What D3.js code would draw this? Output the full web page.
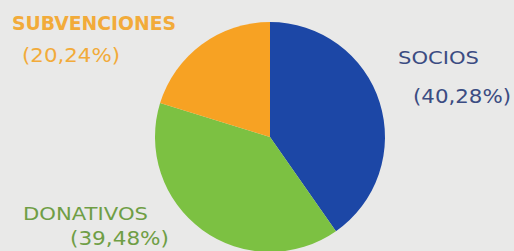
<!DOCTYPE html>
<html>
<head>
<meta charset="utf-8">
<script src="https://cdn.jsdelivr.net/npm/d3@7"></script>
<style>
  html, body { margin: 0; padding: 0; background: #e9e9e8; }
  svg { display: block; }
</style>
</head>
<body>
<script>
// data
const categories = ["SOCIOS", "DONATIVOS", "SUBVENCIONES"];
const values = [40.28, 39.48, 20.24];
const valueLabels = ["(40,28%)", "(39,48%)", "(20,24%)"];
const sliceColors = ["#1c47a6", "#7cc142", "#f7a223"];
const textColors = ["#3b4c82", "#6f9e45", "#f2ab3a"];

const width = 514, height = 251;
const cx = 270, cy = 137, radius = 115;

const svg = d3.select("body").append("svg")
  .attr("width", width).attr("height", height);

svg.append("rect").attr("width", width).attr("height", height).attr("fill", "#e9e9e8");

const pie = d3.pie().sort(null).value(d => d)(values);
const arc = d3.arc().innerRadius(0).outerRadius(radius);

svg.append("g")
  .attr("transform", `translate(${cx},${cy})`)
  .selectAll("path")
  .data(pie)
  .join("path")
  .attr("d", arc)
  .attr("fill", (d, i) => sliceColors[i]);

// label placement (name line + value line), per category
const labelPos = [
  { nx: 398, ny: 64, nw: 81, ns: 17, vx: 413, vy: 103, vw: 98 },
  { nx: 23, ny: 220, nw: 125, ns: 17, vx: 70, vy: 245, vw: 99 },
  { nx: 12, ny: 30, nw: 164, ns: 19, vx: 22, vy: 62, vw: 98 }
];

const labels = svg.append("g")
  .style("font-family", "'DejaVu Sans', sans-serif");

categories.forEach((c, i) => {
  const p = labelPos[i];
  labels.append("text")
    .attr("x", p.nx).attr("y", p.ny)
    .attr("textLength", p.nw).attr("lengthAdjust", "spacingAndGlyphs")
    .attr("fill", textColors[i])
    .style("font-size", p.ns + "px")
    .style("font-weight", i === 2 ? "bold" : "normal")
    .text(c);
  labels.append("text")
    .attr("x", p.vx).attr("y", p.vy)
    .attr("textLength", p.vw).attr("lengthAdjust", "spacingAndGlyphs")
    .attr("fill", textColors[i])
    .style("font-size", "19px")
    .text(valueLabels[i]);
});
</script>
</body>
</html>
